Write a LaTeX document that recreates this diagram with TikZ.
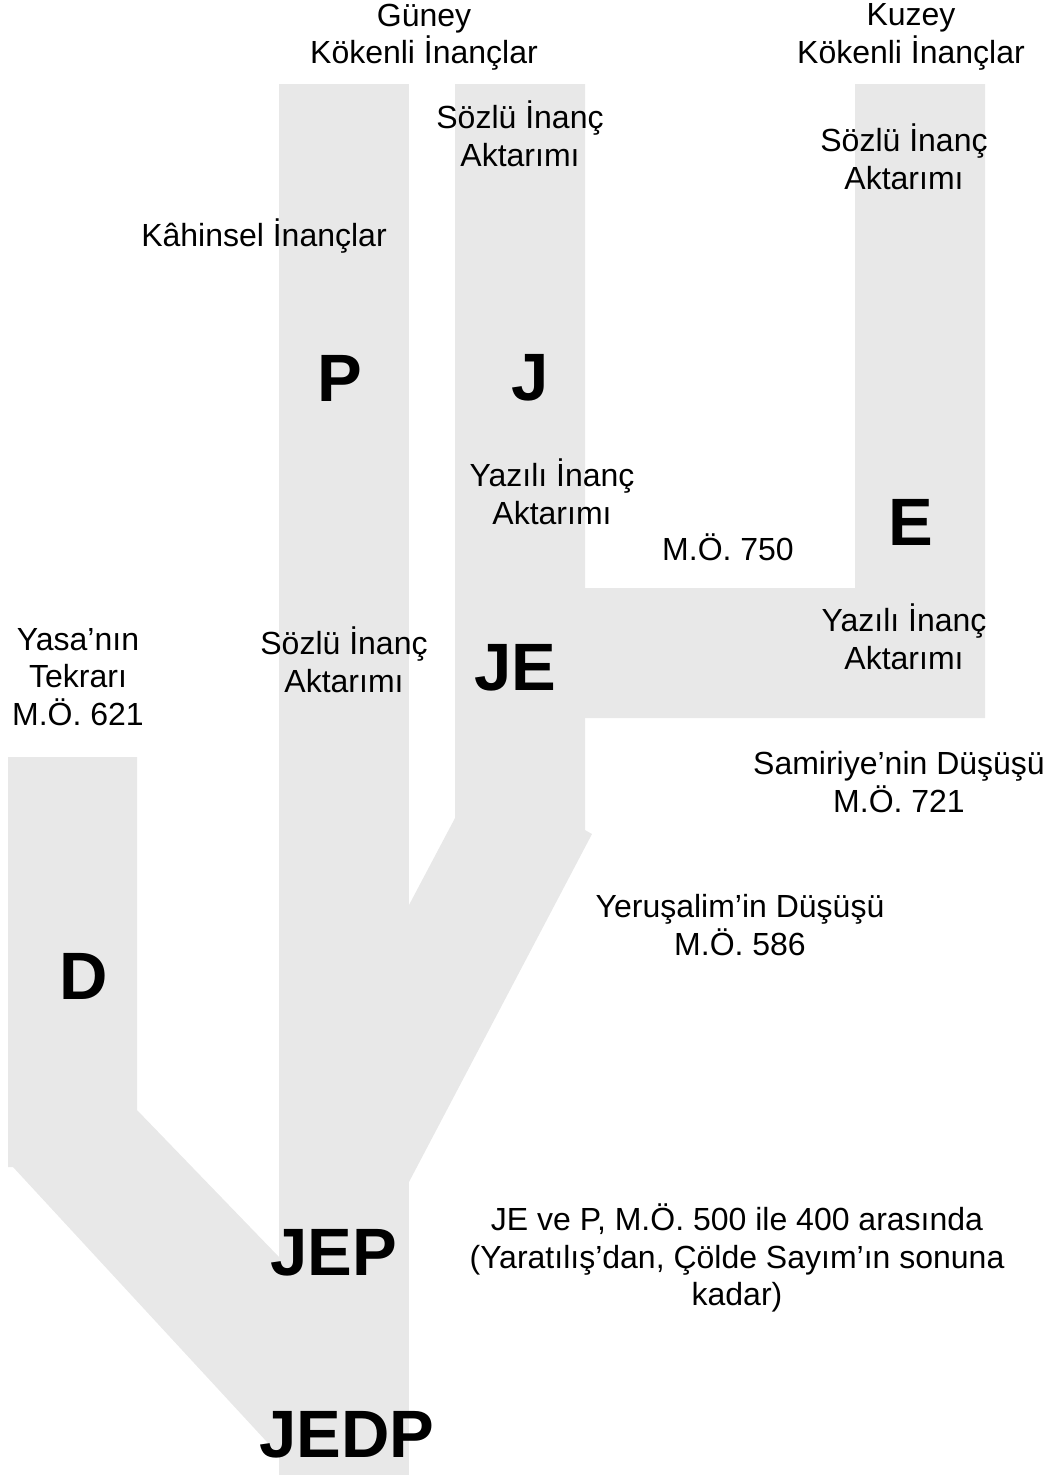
\documentclass[tikz,border=0pt]{standalone}
\usepackage{fontspec}
\setmainfont{Liberation Sans}
\definecolor{band}{HTML}{E8E8E8}
\begin{document}
\begin{tikzpicture}[x=1pt,y=-1pt,
  lbl/.style={align=center,inner sep=0pt,font=\fontsize{32}{37.5}\selectfont},
  big/.style={inner sep=0pt,font=\fontsize{67}{70}\selectfont\bfseries},
  bandfill/.style={fill=band,draw=none}]
\useasboundingbox (0,0) rectangle (1053,1475);
% bands
\fill[bandfill] (279,84) rectangle (409,1475);
\fill[bandfill] (455,84) -- (585,84) -- (585,830) -- (592,834) -- (409,1182) -- (409,905) -- (455,818) -- cycle;
\fill[bandfill] (855,84) -- (985,84) -- (985,718) -- (585,718) -- (585,588) -- (855,588) -- cycle;
\fill[bandfill] (8,757) -- (137,757) -- (137,1110) -- (279,1257) -- (279,1455) -- (13,1167) -- (8,1167) -- cycle;
% labels
\node[lbl] (guney) at (424,37) {Güney\\Kökenli İnançlar};
\node[lbl] (kuzey) at (911,37) {Kuzey\\Kökenli İnançlar};
\node[lbl] (sozJ) at (520,134) {Sözlü İnanç\\Aktarımı};
\node[lbl] (sozE) at (904,157) {Sözlü İnanç\\Aktarımı};
\node[lbl] (kahin) at (264,236) {Kâhinsel İnançlar};
\node[big] (P) at (340,378) {P};
\node[big] (J) at (530,378) {J};
\node[lbl] (yazJ) at (552,492) {Yazılı İnanç\\Aktarımı};
\node[lbl] (m750) at (728,547) {M.Ö. 750};
\node[big] (E) at (911,522) {E};
\node[lbl] (yazE) at (904,637) {Yazılı İnanç\\Aktarımı};
\node[big] (JE) at (515,668) {JE};
\node[lbl] (yasa) at (78,677) {Yasa’nın\\Tekrarı\\M.Ö. 621};
\node[lbl] (sozP) at (344,660) {Sözlü İnanç\\Aktarımı};
\node[lbl] (samir) at (899,782) {Samiriye’nin Düşüşü\\M.Ö. 721};
\node[lbl] (yeru) at (740,925) {Yeruşalim’in Düşüşü\\M.Ö. 586};
\node[big] (D) at (84,976) {D};
\node[big] (JEP) at (334,1253) {JEP};
\node[lbl] (jeve) at (737,1258) {JE ve P, M.Ö. 500 ile 400 arasında\\(Yaratılış’dan, Çölde Sayım’ın sonuna\\kadar)};
\node[big] (JEDP) at (347,1435) {JEDP};
\end{tikzpicture}
\end{document}
